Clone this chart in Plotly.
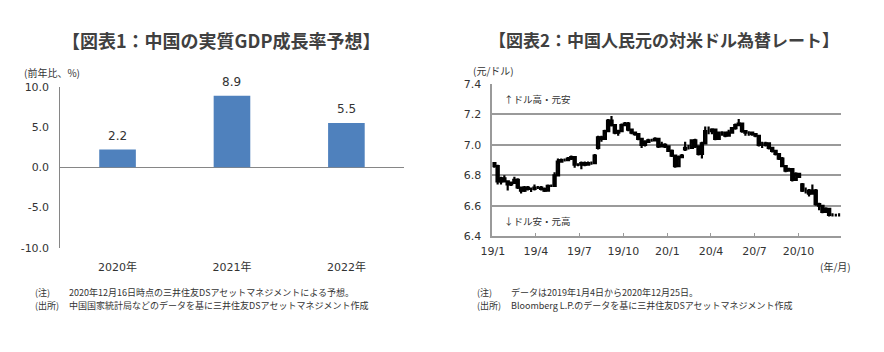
import pandas as pd
import plotly.graph_objects as go

# ---------------- Data: chart 1 ----------------
gdp_years = ["2020年", "2021年", "2022年"]
gdp_values = [2.2, 8.9, 5.5]
gdp_tickvals = [-10, -5, 0, 5, 10]
gdp_ticktext = ["-10.0", "-5.0", "0.0", "5.0", "10.0"]

# ---------------- Data: chart 2 (weekly OHLC, USD/CNY) ----------------
fx_dates = pd.date_range("2019-01-04", "2020-12-25", freq="W-FRI")
fx_open = [6.88, 6.86, 6.76, 6.78, 6.76, 6.74, 6.75, 6.77, 6.72, 6.70,
           6.72, 6.71, 6.71, 6.72, 6.72, 6.71, 6.70, 6.73, 6.73, 6.80,
           6.89, 6.90, 6.90, 6.91, 6.92, 6.87, 6.87, 6.88, 6.87, 6.88,
           6.88, 6.98, 7.05, 7.04, 7.09, 7.16, 7.13, 7.08, 7.09, 7.13,
           7.14, 7.10, 7.08, 7.07, 7.04, 7.00, 7.02, 7.03, 7.03, 7.04,
           6.99, 7.00, 6.99, 6.96, 6.93, 6.86, 6.92, 6.97, 6.98, 6.98,
           7.03, 6.99, 6.94, 7.01, 7.09, 7.09, 7.10, 7.04, 7.08, 7.08,
           7.06, 7.08, 7.11, 7.13, 7.14, 7.09, 7.08, 7.08, 7.07, 7.06,
           7.00, 7.00, 7.01, 6.98, 6.96, 6.94, 6.91, 6.86, 6.83, 6.84,
           6.77, 6.81, 6.74, 6.70, 6.70, 6.68, 6.70, 6.61, 6.60, 6.56,
           6.58, 6.54, 6.54, 6.54]
fx_high = [6.88, 6.87, 6.79, 6.80, 6.76, 6.76, 6.79, 6.78, 6.72, 6.73,
           6.73, 6.72, 6.74, 6.73, 6.73, 6.72, 6.74, 6.74, 6.82, 6.91,
           6.91, 6.91, 6.92, 6.93, 6.92, 6.88, 6.89, 6.89, 6.89, 6.89,
           6.94, 7.06, 7.06, 7.10, 7.17, 7.19, 7.13, 7.10, 7.14, 7.15,
           7.15, 7.10, 7.08, 7.07, 7.04, 7.03, 7.04, 7.04, 7.05, 7.04,
           7.02, 7.01, 6.99, 6.97, 6.93, 6.93, 6.94, 7.02, 7.00, 7.03,
           7.04, 6.99, 7.02, 7.12, 7.12, 7.11, 7.10, 7.08, 7.09, 7.08,
           7.10, 7.11, 7.14, 7.17, 7.14, 7.09, 7.09, 7.08, 7.07, 7.06,
           7.02, 7.02, 7.01, 6.98, 6.96, 6.94, 6.92, 6.86, 6.85, 6.84,
           6.82, 6.81, 6.75, 6.72, 6.71, 6.74, 6.71, 6.62, 6.60, 6.59,
           6.58, 6.55, 6.54, 6.55]
fx_low = [6.85, 6.74, 6.74, 6.76, 6.70, 6.73, 6.75, 6.71, 6.68, 6.69,
          6.70, 6.69, 6.70, 6.71, 6.70, 6.69, 6.70, 6.73, 6.73, 6.80,
          6.89, 6.89, 6.90, 6.90, 6.85, 6.86, 6.84, 6.86, 6.87, 6.87,
          6.88, 6.97, 7.02, 7.04, 7.09, 7.12, 7.07, 7.06, 7.09, 7.13,
          7.09, 7.07, 7.06, 7.03, 6.98, 6.99, 7.02, 7.02, 7.03, 6.98,
          6.99, 6.98, 6.96, 6.92, 6.85, 6.86, 6.92, 6.96, 6.97, 6.98,
          6.98, 6.93, 6.91, 7.01, 7.07, 7.07, 7.03, 7.04, 7.06, 7.05,
          7.06, 7.08, 7.10, 7.13, 7.08, 7.06, 7.06, 7.06, 7.05, 6.99,
          6.98, 6.99, 6.97, 6.95, 6.93, 6.90, 6.86, 6.82, 6.83, 6.76,
          6.77, 6.79, 6.69, 6.68, 6.66, 6.68, 6.60, 6.57, 6.55, 6.56,
          6.53, 6.53, 6.53, 6.53]
fx_close = [6.86, 6.76, 6.78, 6.76, 6.74, 6.75, 6.77, 6.72, 6.70, 6.72,
            6.71, 6.71, 6.72, 6.72, 6.71, 6.70, 6.73, 6.73, 6.80, 6.89,
            6.90, 6.90, 6.91, 6.92, 6.87, 6.87, 6.88, 6.87, 6.88, 6.88,
            6.93, 7.05, 7.04, 7.09, 7.16, 7.13, 7.08, 7.09, 7.13, 7.14,
            7.10, 7.08, 7.07, 7.04, 7.00, 7.02, 7.03, 7.03, 7.04, 6.99,
            7.00, 6.99, 6.96, 6.93, 6.86, 6.92, 6.93, 6.98, 6.98, 7.03,
            6.99, 6.94, 7.01, 7.09, 7.09, 7.10, 7.04, 7.08, 7.08, 7.06,
            7.08, 7.11, 7.13, 7.14, 7.09, 7.08, 7.08, 7.07, 7.06, 7.00,
            7.00, 7.01, 6.98, 6.96, 6.94, 6.91, 6.86, 6.83, 6.84, 6.77,
            6.81, 6.79, 6.70, 6.70, 6.68, 6.70, 6.61, 6.60, 6.56, 6.58,
            6.54, 6.54, 6.54, 6.54]
fx_tickvals = ["2019-01-01", "2019-04-01", "2019-07-01", "2019-10-01",
               "2020-01-01", "2020-04-01", "2020-07-01", "2020-10-01"]
fx_ticktext = ["19/1", "19/4", "19/7", "19/10", "20/1", "20/4", "20/7", "20/10"]
fx_yticks = [6.4, 6.6, 6.8, 7.0, 7.2, 7.4]

W, H = 884, 352
FONT = "DejaVu Sans, Noto Sans CJK JP, sans-serif"
JP = "Noto Sans CJK JP, sans-serif"
TXT = "#333333"
GRID = "#9a9a9a"


def px(x):
    return x / W


def py(y):
    return 1 - y / H


fig = go.Figure()

fig.add_trace(go.Bar(
    x=gdp_years, y=gdp_values, width=0.32,
    marker=dict(color="#4f81bd", line=dict(width=0)),
    xaxis="x", yaxis="y", showlegend=False,
))

fig.add_trace(go.Candlestick(
    x=fx_dates, open=fx_open, high=fx_high, low=fx_low, close=fx_close,
    increasing=dict(line=dict(color="black", width=2.2), fillcolor="white"),
    decreasing=dict(line=dict(color="black", width=2.2), fillcolor="black"),
    whiskerwidth=0, xaxis="x2", yaxis="y2", showlegend=False,
))

fig.update_layout(
    width=W, height=H, margin=dict(l=0, r=0, t=0, b=0),
    paper_bgcolor="white", plot_bgcolor="white",
    font=dict(family=FONT, size=11, color=TXT),
    bargap=0.68, boxgap=0.05,
    xaxis=dict(domain=[px(49), px(397)], showgrid=False, showline=False,
               ticks="", tickfont=dict(size=11, family=FONT),
               ticklabelstandoff=11, fixedrange=True),
    yaxis=dict(domain=[py(251), py(84)], range=[-10, 10],
               tickvals=gdp_tickvals, ticktext=gdp_ticktext,
               showgrid=False, showline=True, linecolor="#868686", linewidth=1,
               zeroline=True, zerolinecolor="#868686", zerolinewidth=1,
               ticks="", ticklabelstandoff=8, tickfont=dict(size=11)),
    xaxis2=dict(domain=[px(487), px(840)], type="date",
                range=["2018-12-31", "2020-12-28"],
                tickvals=fx_tickvals, ticktext=fx_ticktext,
                showgrid=False, showline=True, linecolor=GRID, linewidth=2,
                ticks="inside", ticklen=3, tickcolor=GRID, tickwidth=1,
                ticklabelstandoff=4, tickfont=dict(size=11),
                rangeslider=dict(visible=False), anchor="y2"),
    yaxis2=dict(domain=[py(239), py(81)], range=[6.4, 7.4],
                tickvals=fx_yticks, tickformat=".1f",
                showgrid=True, gridcolor=GRID, gridwidth=2,
                showline=True, linecolor=GRID, linewidth=2,
                zeroline=False, ticks="", ticklabelstandoff=7,
                tickfont=dict(size=11), anchor="x2"),
)

ann = [
    dict(x=px(212), y=py(35), text="<b>【図表1：中国の実質GDP成長率予想】</b>",
         font=dict(size=18, family=JP, color="#404040")),
    dict(x=px(661), y=py(35), text="<b>【図表2：中国人民元の対米ドル為替レート】</b>",
         font=dict(size=17, family=JP, color="#404040")),
    dict(x=px(10), y=py(69), text="(前年比、%)", xanchor="left",
         font=dict(size=10, family=JP)),
    dict(x=px(465), y=py(67), text="(元/ドル)", xanchor="left",
         font=dict(size=10, family=JP)),
    dict(x=px(853), y=py(270), text="(年/月)", xanchor="right",
         font=dict(size=10, family=JP)),
    dict(x=px(497), y=py(97), text="↑ドル高・元安", xanchor="left",
         font=dict(size=9.5, family=JP)),
    dict(x=px(497), y=py(223), text="↓ドル安・元高", xanchor="left",
         font=dict(size=9.5, family=JP)),
    dict(x=px(21), y=py(298), text="(注)", xanchor="left", font=dict(size=9, family=JP)),
    dict(x=px(56), y=py(298), text="2020年12月16日時点の三井住友DSアセットマネジメントによる予想。",
         xanchor="left", font=dict(size=9, family=JP)),
    dict(x=px(21), y=py(311), text="(出所)", xanchor="left", font=dict(size=9, family=JP)),
    dict(x=px(56), y=py(311), text="中国国家統計局などのデータを基に三井住友DSアセットマネジメント作成",
         xanchor="left", font=dict(size=9, family=JP)),
    dict(x=px(469), y=py(298), text="(注)", xanchor="left", font=dict(size=9, family=JP)),
    dict(x=px(504), y=py(298), text="データは2019年1月4日から2020年12月25日。",
         xanchor="left", font=dict(size=9, family=JP)),
    dict(x=px(469), y=py(311), text="(出所)", xanchor="left", font=dict(size=9, family=JP)),
    dict(x=px(504), y=py(311), text="Bloomberg L.P.のデータを基に三井住友DSアセットマネジメント作成",
         xanchor="left", font=dict(size=9, family=JP)),
]
for a in ann:
    a.setdefault("xref", "paper")
    a.setdefault("yref", "paper")
    a.setdefault("showarrow", False)
    a.setdefault("xanchor", "center")
    a.setdefault("yanchor", "middle")

# value labels above bars (data coordinates)
for cat, val in zip(gdp_years, gdp_values):
    ann.append(dict(x=cat, y=val, xref="x", yref="y", text=f"{val:.1f}",
                    showarrow=False, yshift=14, xanchor="center", yanchor="middle",
                    font=dict(size=12, family=FONT, color=TXT)))

fig.update_layout(annotations=ann)

fig.write_html("out.html")
